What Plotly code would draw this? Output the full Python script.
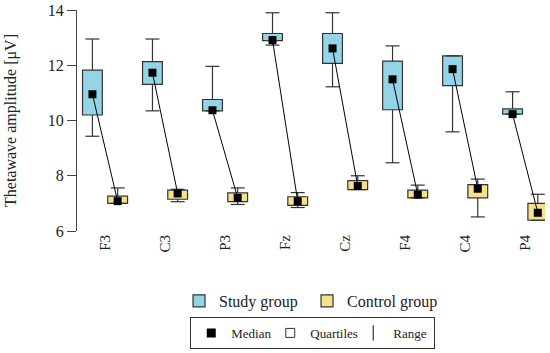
import plotly.graph_objects as go

categories = ["F3", "C3", "P3", "Fz", "Cz", "F4", "C4", "P4"]

study_min = [9.43, 10.35, 10.35, 12.73, 11.22, 8.47, 9.59, 10.23]
study_q1 = [10.2, 11.31, 10.35, 12.89, 12.07, 10.39, 11.26, 10.23]
study_med = [10.95, 11.73, 10.37, 12.91, 12.61, 11.49, 11.86, 10.23]
study_q3 = [11.82, 12.13, 10.76, 13.15, 13.15, 12.15, 12.34, 10.42]
study_max = [12.95, 12.95, 11.96, 13.9, 13.9, 12.7, 12.34, 11.04]

control_min = [7.0, 7.06, 6.96, 6.85, 7.5, 7.2, 6.51, 6.39]
control_q1 = [7.0, 7.15, 7.06, 6.93, 7.5, 7.2, 7.2, 6.39]
control_med = [7.08, 7.36, 7.2, 7.08, 7.63, 7.32, 7.53, 6.66]
control_q3 = [7.26, 7.48, 7.38, 7.24, 7.82, 7.48, 7.68, 7.0]
control_max = [7.56, 7.51, 7.56, 7.39, 8.0, 7.66, 7.88, 7.33]

FONT = "Liberation Serif"
STUDY_COLOR = "#93D4E6"
CONTROL_COLOR = "#F3E18C"
EDGE = "#333333"
OFFSET = 0.21
BOX_W = 0.33

idx = list(range(len(categories)))
xs_study = [i - OFFSET for i in idx]
xs_control = [i + OFFSET for i in idx]

fig = go.Figure()


def add_group(xs, mn, q1, med, q3, mx, color, name, lw):
    wx, wy = [], []
    for x, a, b, c, d in zip(xs, mn, q1, q3, mx):
        wx += [x, x, None, x, x, None]
        wy += [a, b, None, c, d, None]
    fig.add_trace(go.Scatter(x=wx, y=wy, mode="lines",
                             line=dict(color=EDGE, width=1.2),
                             showlegend=False, hoverinfo="skip"))
    fig.add_trace(go.Scatter(x=xs + xs, y=mn + mx, mode="markers",
                             marker=dict(symbol="line-ew", size=10,
                                         line=dict(color=EDGE, width=1.2)),
                             showlegend=False, hoverinfo="skip"))
    fig.add_trace(go.Bar(x=xs, base=q1, y=[b - a for a, b in zip(q1, q3)],
                         width=BOX_W, name=name, legendwidth=lw,
                         marker=dict(color=color, line=dict(color=EDGE, width=1.2)),
                         legend="legend"))


add_group(xs_study, study_min, study_q1, study_med, study_q3, study_max,
          STUDY_COLOR, "Study group", 83)
add_group(xs_control, control_min, control_q1, control_med, control_q3, control_max,
          CONTROL_COLOR, "Control group", None)

lx, ly = [], []
for a, b, c, d in zip(xs_study, study_med, xs_control, control_med):
    lx += [a, c, None]
    ly += [b, d, None]
fig.add_trace(go.Scatter(x=lx, y=ly, mode="lines",
                         line=dict(color="black", width=1),
                         showlegend=False, hoverinfo="skip"))

fig.add_trace(go.Scatter(x=xs_study + xs_control, y=study_med + control_med,
                         mode="markers",
                         marker=dict(symbol="square", size=8, color="black"),
                         showlegend=False, hoverinfo="skip"))

fig.add_trace(go.Scatter(x=[None], y=[None], mode="markers", name="Median",
                         legendwidth=34,
                         marker=dict(symbol="square", size=9, color="black"),
                         legend="legend2"))
fig.add_trace(go.Scatter(x=[None], y=[None], mode="markers", name="Quartiles",
                         legendwidth=38,
                         marker=dict(symbol="square", size=9, color="white",
                                     line=dict(color=EDGE, width=1)),
                         legend="legend2"))
fig.add_trace(go.Scatter(x=[None], y=[None], mode="markers", name="Range",
                         legendwidth=36,
                         marker=dict(symbol="line-ns", size=11,
                                     line=dict(color=EDGE, width=1.2)),
                         legend="legend2"))

fig.update_layout(
    width=550, height=353,
    margin=dict(l=77, r=5, t=10, b=122, autoexpand=False),
    plot_bgcolor="white", paper_bgcolor="white",
    barmode="overlay",
    font=dict(family=FONT, size=16, color="#222"),
    xaxis=dict(range=[-0.467, 7.33], tickmode="array", tickvals=idx,
               ticktext=categories, tickangle=-90, showgrid=False,
               zeroline=False, showline=False, ticks="",
               tickfont=dict(family=FONT, size=15, color="#222")),
    yaxis=dict(range=[6, 14], tickvals=[6, 8, 10, 12, 14], showgrid=False,
               zeroline=False, showline=True, linecolor="#444", linewidth=1,
               ticks="outside", ticklen=9, tickcolor="#444",
               title=dict(text="Thetawave amplitude [μV]", standoff=27,
                          font=dict(family=FONT, size=16, color="#222")),
               tickfont=dict(family=FONT, size=16, color="#222")),
    legend=dict(orientation="h", x=0.218, y=-0.24, xanchor="left", yanchor="top",
                font=dict(family=FONT, size=16, color="#222"),
                bgcolor="rgba(0,0,0,0)", traceorder="normal"),
    legend2=dict(orientation="h", x=0.242, y=-0.389, xanchor="left", yanchor="top",
                 font=dict(family=FONT, size=13, color="#222"),
                 bordercolor="#333", borderwidth=1, bgcolor="white"),
    showlegend=True,
)

fig.write_html("out.html", config={"displayModeBar": False},
               post_script="document.body.style.margin='0px';")
